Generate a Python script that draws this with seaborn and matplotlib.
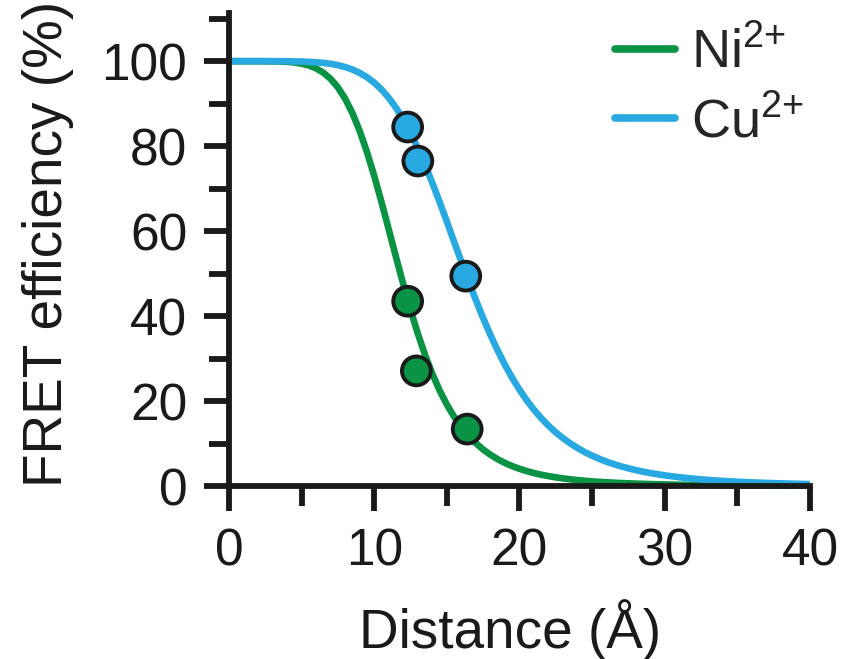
import numpy as np
import pandas as pd
import matplotlib
matplotlib.use("Agg")
import matplotlib.pyplot as plt
import seaborn as sns
from matplotlib.ticker import MultipleLocator

# ---- data ----
ni_dist = [0, 1, 2, 3, 4, 4.5, 5, 5.5, 6, 6.5, 7, 7.5, 8, 8.5, 9, 9.5, 10, 10.5,
           11, 11.5, 12, 12.5, 13, 13.5, 14, 14.5, 15, 15.5, 16, 16.5, 17, 17.5,
           18, 18.5, 19, 19.5, 20, 20.5, 21, 21.5, 22, 22.5, 23, 23.5, 24,
           25, 26, 27, 28, 29, 30, 31, 32, 33, 34, 35, 36, 37, 38, 39, 40]
ni_curve = [100, 100, 100, 99.97, 99.85, 99.69, 99.42, 98.99, 98.30, 97.28,
            95.82, 93.82, 91.15, 87.74, 83.56, 78.60, 72.97, 66.82, 60.38, 53.85,
            47.48, 41.44, 35.87, 30.84, 26.39, 22.51, 19.16, 16.30, 13.86, 11.80,
            10.06, 8.59, 7.35, 6.31, 5.43, 4.68, 4.05, 3.51, 3.05, 2.66,
            2.33, 2.04, 1.79, 1.58, 1.39,
            1.09, 0.87, 0.69, 0.56, 0.45, 0.37, 0.30, 0.25, 0.21, 0.17, 0.15,
            0.12, 0.10, 0.09, 0.08, 0.07]
cu_dist = [0, 1, 2, 3, 4, 5, 6, 6.5, 7, 7.5, 8, 8.5, 9, 9.5, 10, 10.5, 11, 11.5,
           12, 12.5, 13, 13.5, 14, 14.5, 15, 15.5, 16, 16.5, 17, 17.5, 18, 18.5,
           19, 19.5, 20, 20.5, 21, 21.5, 22, 22.5, 23, 23.5, 24, 24.5, 25, 25.5,
           26, 26.5, 27, 27.5, 28, 28.5, 29, 29.5, 30,
           31, 32, 33, 34, 35, 36, 37, 38, 39, 40]
cu_curve = [100, 100, 100, 100, 99.98, 99.92, 99.75, 99.60, 99.38, 99.06,
            98.62, 98.03, 97.24, 96.23, 94.94, 93.33, 91.37, 89.02, 86.27, 83.10,
            79.53, 75.60, 71.35, 66.87, 62.22, 57.49, 52.79, 48.17, 43.73, 39.50,
            35.54, 31.87, 28.51, 25.44, 22.66, 20.17, 17.95, 15.96, 14.19, 12.63,
            11.25, 10.02, 8.94, 7.98, 7.13, 6.39, 5.72, 5.14, 4.62, 4.16,
            3.75, 3.38, 3.06, 2.77, 2.51,
            2.07, 1.72, 1.43, 1.20, 1.01, 0.85, 0.72, 0.62, 0.53, 0.45]
ni_pts_x = [12.3, 12.9, 16.4]
ni_pts_y = [43.5, 27.1, 13.4]
cu_pts_x = [12.3, 13.0, 16.3]
cu_pts_y = [84.5, 76.5, 49.4]
series = ["Ni$^{2{+}}$", "Cu$^{2{+}}$"]
colors = ["#0b9345", "#29a9e1"]
x_ticks = [0, 10, 20, 30, 40]
y_ticks = [0, 20, 40, 60, 80, 100]

curves = pd.DataFrame({
    "Distance": ni_dist + cu_dist,
    "FRET": ni_curve + cu_curve,
    "Ion": [series[0]] * len(ni_dist) + [series[1]] * len(cu_dist),
})
points = pd.DataFrame({
    "Distance": ni_pts_x + cu_pts_x,
    "FRET": ni_pts_y + cu_pts_y,
    "Ion": [series[0]] * len(ni_pts_x) + [series[1]] * len(cu_pts_x),
})

sns.set_style("ticks")
plt.rcParams["font.family"] = ["Liberation Sans", "DejaVu Sans"]
plt.rcParams["mathtext.fontset"] = "custom"
plt.rcParams["mathtext.rm"] = "Liberation Sans"
plt.rcParams["mathtext.it"] = "Liberation Sans"
plt.rcParams["mathtext.bf"] = "Liberation Sans"

ink = "#1a1a1a"
fig = plt.figure(figsize=(8.46, 6.59), dpi=100)
ax = fig.add_axes([0.2707, 0.2625, 0.6867, 0.7175])
palette = dict(zip(series, colors))

sns.lineplot(data=curves, x="Distance", y="FRET", hue="Ion", palette=palette,
             linewidth=4.8, ax=ax, legend=True, zorder=2)
sns.scatterplot(data=points, x="Distance", y="FRET", hue="Ion", palette=palette,
                s=430, edgecolor=ink, linewidth=2.8, ax=ax, legend=False,
                zorder=3)

ax.set_xlim(0, 40)
ax.set_ylim(0, 111.3)
ax.set_xticks(x_ticks)
ax.set_yticks(y_ticks)
ax.xaxis.set_minor_locator(MultipleLocator(5))
ax.yaxis.set_minor_locator(MultipleLocator(10))

for s in ["top", "right"]:
    ax.spines[s].set_visible(False)
for s in ["left", "bottom"]:
    ax.spines[s].set_linewidth(4.2)
    ax.spines[s].set_color(ink)
    ax.spines[s].set_capstyle("projecting")

ax.tick_params(which="major", length=18, width=4.2, color=ink,
               labelsize=37, pad=12, labelcolor=ink)
ax.tick_params(which="minor", length=14.5, width=4.2, color=ink)

ax.set_xlabel("Distance (Å)", fontsize=39.5, color=ink)
ax.set_ylabel("FRET efficiency (%)", fontsize=39.5, color=ink)
ax.xaxis.label.set_va("baseline")
ax.yaxis.label.set_va("baseline")
ax.xaxis.set_label_coords(0.484, -0.3425)
ax.yaxis.set_label_coords(-0.2874, 0.5116)

for ln in ax.lines:
    ln.set_clip_on(False)
    ln.set_solid_capstyle("butt")

leg = ax.legend(loc="upper left", bbox_to_anchor=(0.727, 0.958),
                bbox_transform=fig.transFigure, frameon=False,
                fontsize=39, handlelength=1.1, handletextpad=0.3,
                labelspacing=0.34, borderaxespad=0, borderpad=0)
for h in leg.get_lines():
    h.set_linewidth(5.5)
    h.set_solid_capstyle("round")

fig.savefig("out.png", dpi=100)
